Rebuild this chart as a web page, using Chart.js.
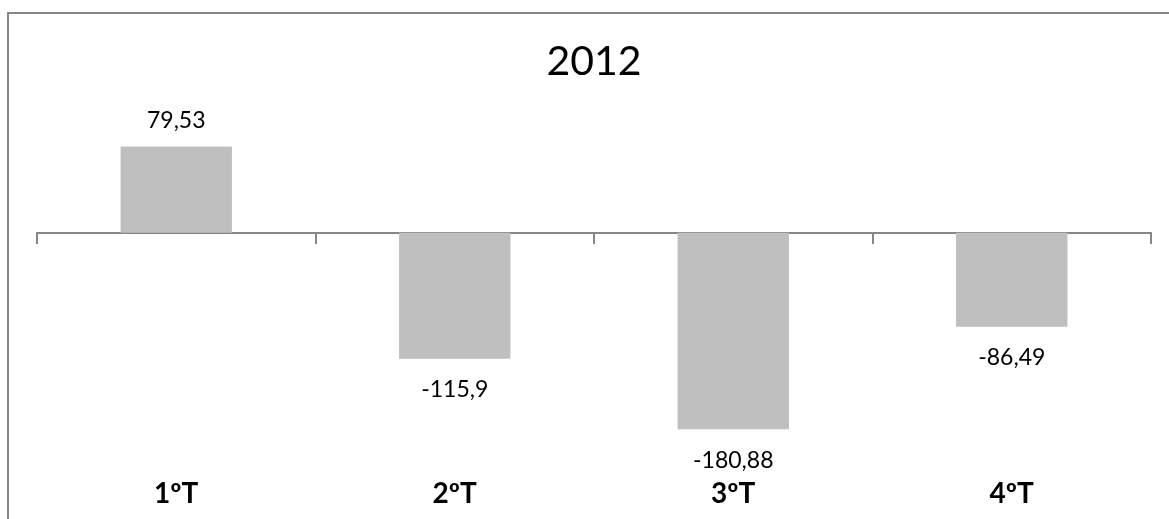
<!DOCTYPE html>
<html>
<head>
<meta charset="utf-8">
<script src="https://cdn.jsdelivr.net/npm/chart.js@4/dist/chart.umd.min.js"></script>
<style>
  html, body { margin: 0; padding: 0; background: #ffffff; overflow: hidden; }
  #frame { position: absolute; left: 7px; top: 12px; width: 1300px; height: 700px;
           border-left: 2px solid #878787; border-top: 2px solid #878787; }
  #wrap { position: absolute; left: 0; top: 0; width: 1169px; height: 519px; }
</style>
</head>
<body>
<div id="frame"></div>
<div id="wrap"><canvas id="c"></canvas></div>
<script>
const chartTitle = '2012';
const categories = ['1ºT', '2ºT', '3ºT', '4ºT'];
const values = [79.53, -115.9, -180.88, -86.49];
const yMin = -200;
const yMax = 100;

const FONT = 'Lato, "Open Sans", "DejaVu Sans", sans-serif';

const valueLabels = {
  id: 'valueLabels',
  afterDatasetsDraw(chart) {
    const ctx = chart.ctx;
    const meta = chart.getDatasetMeta(0);
    ctx.save();
    ctx.font = '23px ' + FONT;
    ctx.fillStyle = '#000000';
    ctx.textAlign = 'center';
    ctx.textBaseline = 'middle';
    meta.data.forEach((bar, i) => {
      const v = values[i];
      const txt = String(v).replace('.', ',');
      const y = v >= 0 ? bar.y - 26 : bar.y + 31;
      ctx.fillText(txt, bar.x, y);
    });
    ctx.restore();
  }
};

new Chart(document.getElementById('c'), {
  type: 'bar',
  data: {
    labels: categories,
    datasets: [{
      data: values,
      backgroundColor: '#bfbfbf',
      borderWidth: 0,
      barPercentage: 0.4,
      categoryPercentage: 1.0
    }]
  },
  options: {
    responsive: true,
    maintainAspectRatio: false,
    devicePixelRatio: 1,
    animation: false,
    layout: { padding: { left: 37, right: 18, top: 0, bottom: 11 } },
    plugins: {
      legend: { display: false },
      tooltip: { enabled: false },
      title: {
        display: true,
        text: chartTitle,
        color: '#000000',
        font: { family: FONT, size: 41, weight: 'normal' },
        padding: { top: 37, bottom: 38 }
      }
    },
    scales: {
      x: {
        type: 'category',
        position: 'bottom',
        offset: true,
        grid: { display: false, drawTicks: false },
        border: { display: false },
        ticks: {
          color: '#000000',
          padding: 27,
          font: { family: FONT, size: 28, weight: 'bold' },
          maxRotation: 0,
          autoSkip: false
        },
        afterFit(scale) { scale.height = 58; }
      },
      x2: {
        type: 'category',
        labels: categories,
        position: { y: 0 },
        offset: true,
        grid: {
          offset: true,
          drawOnChartArea: false,
          drawTicks: true,
          tickLength: 10,
          color: '#878787',
          lineWidth: 2
        },
        border: { display: true, color: '#878787', width: 2 },
        ticks: { display: false },
        afterFit(scale) { scale.height = 0; }
      },
      y: {
        display: false,
        min: yMin,
        max: yMax
      }
    }
  },
  plugins: [valueLabels]
});
</script>
</body>
</html>
